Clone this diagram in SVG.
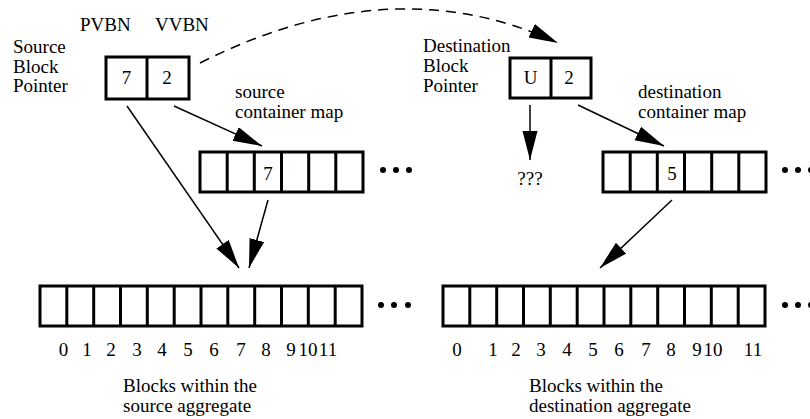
<svg xmlns="http://www.w3.org/2000/svg" width="810" height="419" viewBox="0 0 810 419" font-family="'Liberation Serif', 'Times New Roman', 'DejaVu Serif', serif" font-size="19">
<style>
text{font-family:'Liberation Serif','Times New Roman','DejaVu Serif',serif;font-size:19px;fill:#000}
.c{text-anchor:middle}
.box{fill:#fff;stroke:#000;stroke-width:3}
.div{stroke:#000;stroke-width:3}
.arr{fill:none;stroke:#000;stroke-width:1.5}
.dash{fill:none;stroke:#000;stroke-width:1.5;stroke-dasharray:10,7}
.dot{fill:#000}
</style>
<defs>
<marker id="ah" markerUnits="userSpaceOnUse" markerWidth="30" markerHeight="16" refX="29" refY="7.5" orient="auto">
<path d="M0,0 L29,7.5 L0,15 z" fill="#000"/>
</marker>
</defs>
<rect width="810" height="419" fill="#fff"/>

<g id="src-pointer">
<text x="80" y="31">PVBN</text>
<text x="155" y="31">VVBN</text>
<text x="13" y="53">Source</text>
<text x="13" y="73">Block</text>
<text x="13" y="92">Pointer</text>
<rect class="box" x="106" y="57" width="83" height="42"/>
<line class="div" x1="147" y1="57" x2="147" y2="99"/>
<text class="c" x="126.5" y="84">7</text>
<text class="c" x="167" y="84">2</text>
</g>

<g id="src-map">
<text x="235" y="98">source</text>
<text x="235" y="118">container map</text>
<rect class="box" x="200" y="152" width="163" height="40"/>
<path class="div" d="M227.2,152V192M254.3,152V192M281.5,152V192M308.7,152V192M335.8,152V192"/>
<text class="c" x="268" y="180">7</text>
<circle class="dot" cx="383" cy="170" r="3"/>
<circle class="dot" cx="396" cy="170" r="3"/>
<circle class="dot" cx="409" cy="170" r="3"/>
</g>

<g id="src-agg">
<rect class="box" x="40" y="286" width="322" height="40"/>
<path class="div" d="M66.8,286V326M93.7,286V326M120.5,286V326M147.3,286V326M174.2,286V326M201,286V326M227.8,286V326M254.7,286V326M281.5,286V326M308.3,286V326M335.2,286V326"/>
<circle class="dot" cx="381" cy="305" r="3"/>
<circle class="dot" cx="394" cy="305" r="3"/>
<circle class="dot" cx="408" cy="305" r="3"/>
<text class="c" x="63.5" y="356">0</text>
<text class="c" x="87" y="356">1</text>
<text class="c" x="111" y="356">2</text>
<text class="c" x="137" y="356">3</text>
<text class="c" x="162" y="356">4</text>
<text class="c" x="188" y="356">5</text>
<text class="c" x="214" y="356">6</text>
<text class="c" x="241" y="356">7</text>
<text class="c" x="266" y="356">8</text>
<text class="c" x="291" y="356">9</text>
<text class="c" x="308" y="356">10</text>
<text class="c" x="328" y="356">11</text>
<text x="123" y="392">Blocks within the</text>
<text x="123" y="412">source aggregate</text>
</g>

<g id="dst-pointer">
<text x="423" y="52">Destination</text>
<text x="423" y="72">Block</text>
<text x="423" y="92">Pointer</text>
<rect class="box" x="510" y="58" width="81" height="40"/>
<line class="div" x1="551" y1="58" x2="551" y2="98"/>
<text class="c" x="530.5" y="84">U</text>
<text class="c" x="569" y="84">2</text>
<text class="c" x="530" y="185">???</text>
</g>

<g id="dst-map">
<text x="638" y="98">destination</text>
<text x="638" y="118">container map</text>
<rect class="box" x="603" y="152" width="163" height="40"/>
<path class="div" d="M630.2,152V192M657.3,152V192M684.5,152V192M711.7,152V192M738.8,152V192"/>
<text class="c" x="672" y="180">5</text>
<circle class="dot" cx="785" cy="170" r="3"/>
<circle class="dot" cx="798" cy="170" r="3"/>
<circle class="dot" cx="811" cy="170" r="3"/>
</g>

<g id="dst-agg">
<rect class="box" x="443" y="286" width="322" height="40"/>
<path class="div" d="M469.8,286V326M496.7,286V326M523.5,286V326M550.3,286V326M577.2,286V326M604,286V326M630.8,286V326M657.7,286V326M684.5,286V326M711.3,286V326M738.2,286V326"/>
<circle class="dot" cx="785" cy="305" r="3"/>
<circle class="dot" cx="798" cy="305" r="3"/>
<circle class="dot" cx="811" cy="305" r="3"/>
<text class="c" x="457" y="356">0</text>
<text class="c" x="493" y="356">1</text>
<text class="c" x="516" y="356">2</text>
<text class="c" x="541" y="356">3</text>
<text class="c" x="567" y="356">4</text>
<text class="c" x="593" y="356">5</text>
<text class="c" x="619" y="356">6</text>
<text class="c" x="646" y="356">7</text>
<text class="c" x="671" y="356">8</text>
<text class="c" x="697" y="356">9</text>
<text class="c" x="713" y="356">10</text>
<text class="c" x="753" y="356">11</text>
<text x="529" y="392">Blocks within the</text>
<text x="529" y="412">destination aggregate</text>
</g>

<g id="connectors">
<path class="dash" d="M200,63 Q392,-34 558,43" marker-end="url(#ah)"/>
<line class="arr" x1="127" y1="106" x2="239" y2="268" marker-end="url(#ah)"/>
<line class="arr" x1="174" y1="106" x2="262" y2="146" marker-end="url(#ah)"/>
<line class="arr" x1="268" y1="200" x2="249" y2="268" marker-end="url(#ah)"/>
<line class="arr" x1="530" y1="105" x2="530" y2="160" marker-end="url(#ah)"/>
<line class="arr" x1="578" y1="105" x2="664" y2="146" marker-end="url(#ah)"/>
<line class="arr" x1="672" y1="200" x2="600" y2="268" marker-end="url(#ah)"/>
</g>
</svg>
